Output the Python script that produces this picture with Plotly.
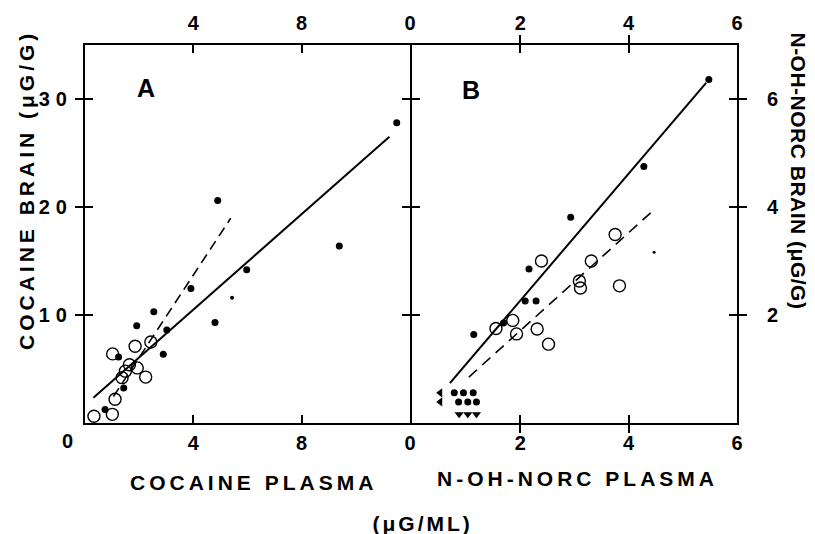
import plotly.graph_objects as go

# ---------------- Panel A : cocaine ----------------
a_filled_x = [0.74, 1.24, 1.43, 1.91, 2.54, 2.89, 3.02, 3.91, 4.80, 4.90, 5.97, 9.39, 11.51]
a_filled_y = [1.25, 6.10, 3.23, 9.00, 10.30, 6.36, 8.60, 12.45, 9.30, 20.60, 14.20, 16.40, 27.80]
a_small_x = [5.43]
a_small_y = [11.60]
a_open_x = [0.33, 1.01, 1.11, 1.37, 1.49, 1.64, 1.93, 2.24, 1.02, 1.85, 2.43]
a_open_y = [0.63, 0.80, 2.20, 4.20, 4.80, 5.40, 5.10, 4.25, 6.40, 7.10, 7.50]
a_solid_x = [0.31, 11.24]
a_solid_y = [2.34, 26.50]
a_dash_x = [1.05, 5.38]
a_dash_y = [2.45, 18.96]

# ---------------- Panel B : N-OH-norcocaine ----------------
b_filled_x = [1.14, 1.69, 2.09, 2.29, 2.16, 2.93, 4.28, 5.48]
b_filled_y = [1.64, 1.85, 2.26, 2.26, 2.85, 3.81, 4.75, 6.36]
b_small_x = [4.47]
b_small_y = [3.16]
b_open_x = [1.55, 1.86, 1.93, 2.31, 2.52, 2.39, 3.09, 3.11, 3.31, 3.75, 3.83]
b_open_y = [1.75, 1.90, 1.65, 1.74, 1.46, 3.00, 2.63, 2.50, 3.00, 3.49, 2.54]
b_low_x = [0.78, 0.95, 1.13, 0.86, 1.03, 1.19]
b_low_y = [0.56, 0.56, 0.56, 0.39, 0.39, 0.39]
b_left_x = [0.52, 0.52]
b_left_y = [0.56, 0.39]
b_down_x = [0.87, 1.03, 1.19]
b_down_y = [0.16, 0.16, 0.16]
b_solid_x = [0.70, 5.43]
b_solid_y = [0.74, 6.30]
b_dash_x = [1.05, 4.47]
b_dash_y = [0.85, 3.95]

# ticks
a_x_ticks = [4, 8, 12]
a_x_labels = ["4", "8", "0"]
a_y_ticks = [10, 20, 30]
a_y_labels = ["10", "20", "30"]
b_x_ticks = [2, 4, 6]
b_x_labels = ["2", "4", "6"]
b_y_ticks = [2, 4, 6]
b_y_labels = ["2", "4", "6"]

FONT = "Liberation Sans, Arial, Helvetica, sans-serif"
BLACK = "black"

fig = go.Figure()


def filled(x, y, xa, ya, size=7):
    fig.add_trace(go.Scatter(x=x, y=y, xaxis=xa, yaxis=ya, mode="markers",
                             marker=dict(symbol="circle", size=size, color=BLACK),
                             cliponaxis=False, hoverinfo="skip"))


def opened(x, y, xa, ya):
    fig.add_trace(go.Scatter(x=x, y=y, xaxis=xa, yaxis=ya, mode="markers",
                             marker=dict(symbol="circle-open", size=12, color=BLACK,
                                         line=dict(width=1.4, color=BLACK)),
                             cliponaxis=False, hoverinfo="skip"))


def line(x, y, xa, ya, dash="solid", width=2):
    fig.add_trace(go.Scatter(x=x, y=y, xaxis=xa, yaxis=ya, mode="lines",
                             line=dict(color=BLACK, width=width, dash=dash),
                             cliponaxis=False, hoverinfo="skip"))


# Panel A
line(a_solid_x, a_solid_y, "x", "y")
line(a_dash_x, a_dash_y, "x", "y", dash="10px,6px", width=1.6)
opened(a_open_x, a_open_y, "x", "y")
filled(a_filled_x, a_filled_y, "x", "y")
filled(a_small_x, a_small_y, "x", "y", size=4)

# Panel B
line(b_solid_x, b_solid_y, "x2", "y2")
line(b_dash_x, b_dash_y, "x2", "y2", dash="11px,7px", width=1.6)
opened(b_open_x, b_open_y, "x2", "y2")
filled(b_filled_x, b_filled_y, "x2", "y2")
filled(b_small_x, b_small_y, "x2", "y2", size=3)
filled(b_low_x, b_low_y, "x2", "y2", size=7)
fig.add_trace(go.Scatter(x=b_left_x, y=b_left_y, xaxis="x2", yaxis="y2", mode="markers",
                         marker=dict(symbol="triangle-left", size=8, color=BLACK),
                         cliponaxis=False, hoverinfo="skip"))
fig.add_trace(go.Scatter(x=b_down_x, y=b_down_y, xaxis="x2", yaxis="y2", mode="markers",
                         marker=dict(symbol="triangle-down", size=8, color=BLACK),
                         cliponaxis=False, hoverinfo="skip"))

# dummy traces for the label-only axes
fig.add_trace(go.Scatter(x=[], y=[], xaxis="x3", yaxis="y", hoverinfo="skip"))
fig.add_trace(go.Scatter(x=[], y=[], xaxis="x4", yaxis="y2", hoverinfo="skip"))
fig.add_trace(go.Scatter(x=[], y=[], xaxis="x2", yaxis="y3", hoverinfo="skip"))

tickfont = dict(family=FONT, size=20, color=BLACK, weight="bold")
common = dict(showgrid=False, zeroline=False, showline=True, linewidth=2, linecolor=BLACK,
              ticks="inside", ticklen=8, tickwidth=2, tickcolor=BLACK, mirror="allticks",
              tickfont=tickfont, fixedrange=True, automargin=False)
label_only = dict(showline=False, showgrid=False, zeroline=False, tickfont=tickfont,
                  automargin=False, fixedrange=True)

PW = 652  # plot-area width in px
GAP = 1.0 / PW

# page body adds an 8px offset, so the figure is 8px smaller than the window
fig.update_layout(
    width=807, height=526,
    margin=dict(l=77, r=78, t=37, b=111),
    paper_bgcolor="white", plot_bgcolor="white", showlegend=False,
    font=dict(family=FONT, size=20, color=BLACK),
    xaxis=dict(domain=[0, 0.5 - GAP], range=[0, 12], tickvals=a_x_ticks, ticktext=a_x_labels,
               anchor="y", ticklabelstandoff=1, **common),
    yaxis=dict(domain=[0, 1], range=[0, 35], tickvals=a_y_ticks, ticktext=a_y_labels,
               anchor="x", side="left", ticklabelstandoff=6, **common),
    xaxis2=dict(domain=[0.5 + GAP, 1], range=[0, 6], tickvals=b_x_ticks, ticktext=b_x_labels,
                anchor="y2", ticklabelstandoff=1, **common),
    yaxis2=dict(domain=[0, 1], range=[0, 7], tickvals=b_y_ticks, showticklabels=False,
                anchor="x2", side="right", **common),
    yaxis3=dict(overlaying="y2", side="right", anchor="x2", range=[0, 7], tickvals=b_y_ticks,
                ticktext=b_y_labels, ticks="outside", ticklen=25,
                tickcolor="rgba(0,0,0,0)", **label_only),
    xaxis3=dict(overlaying="x", side="top", range=[0, 12], tickvals=a_x_ticks,
                ticktext=a_x_labels, anchor="y", ticks="", ticklabelstandoff=10, **label_only),
    xaxis4=dict(overlaying="x2", side="top", range=[0, 6], tickvals=b_x_ticks,
                ticktext=b_x_labels, anchor="y2", ticks="", ticklabelstandoff=10, **label_only),
)

titlefont = dict(family=FONT, size=21, color=BLACK, weight="bold")
annotations = [
    dict(text="COCAINE BRAIN (μG/G)", x=-0.0905, y=0.6164, textangle=-90),
    dict(text="N-OH-NORC BRAIN (μG/G)", x=1.0936, y=0.6667, textangle=90),
    dict(text="COCAINE PLASMA", x=0.2577, y=-0.1587),
    dict(text="N-OH-NORC PLASMA", x=0.7561, y=-0.1481),
    dict(text="(μG/ML)", x=0.5169, y=-0.2646),
    dict(text="0", x=-0.0261, y=-0.0476, font=tickfont),
]
for a in annotations:
    fig.add_annotation(xref="paper", yref="paper", xanchor="center", yanchor="middle",
                       showarrow=False, font=a.pop("font", titlefont), **a)

panelfont = dict(family=FONT, size=25, color=BLACK, weight="bold")
fig.add_annotation(text="A", x=2.24, y=31.0, xref="x", yref="y", showarrow=False,
                   font=panelfont, xanchor="center", yanchor="middle")
fig.add_annotation(text="B", x=1.08, y=6.17, xref="x2", yref="y2", showarrow=False,
                   font=panelfont, xanchor="center", yanchor="middle")

post = """
var gd = document.getElementById('{plot_id}');
function spacing(){
  gd.querySelectorAll('.annotation-text').forEach(function(t){
    var s = t.textContent;
    var ls = '4px';
    if (s.length < 3) ls = '0px';
    else if (s.indexOf('N-OH-NORC BRAIN') === 0) ls = '0.5px';
    else if (s.indexOf('ML') >= 0) ls = '3px';
    t.style.letterSpacing = ls;
  });
  gd.querySelectorAll('.ytick text').forEach(function(t){ t.style.letterSpacing = '6px'; });
}
spacing();
"""

fig.write_html("out.html", post_script=post, config={"displayModeBar": False})
